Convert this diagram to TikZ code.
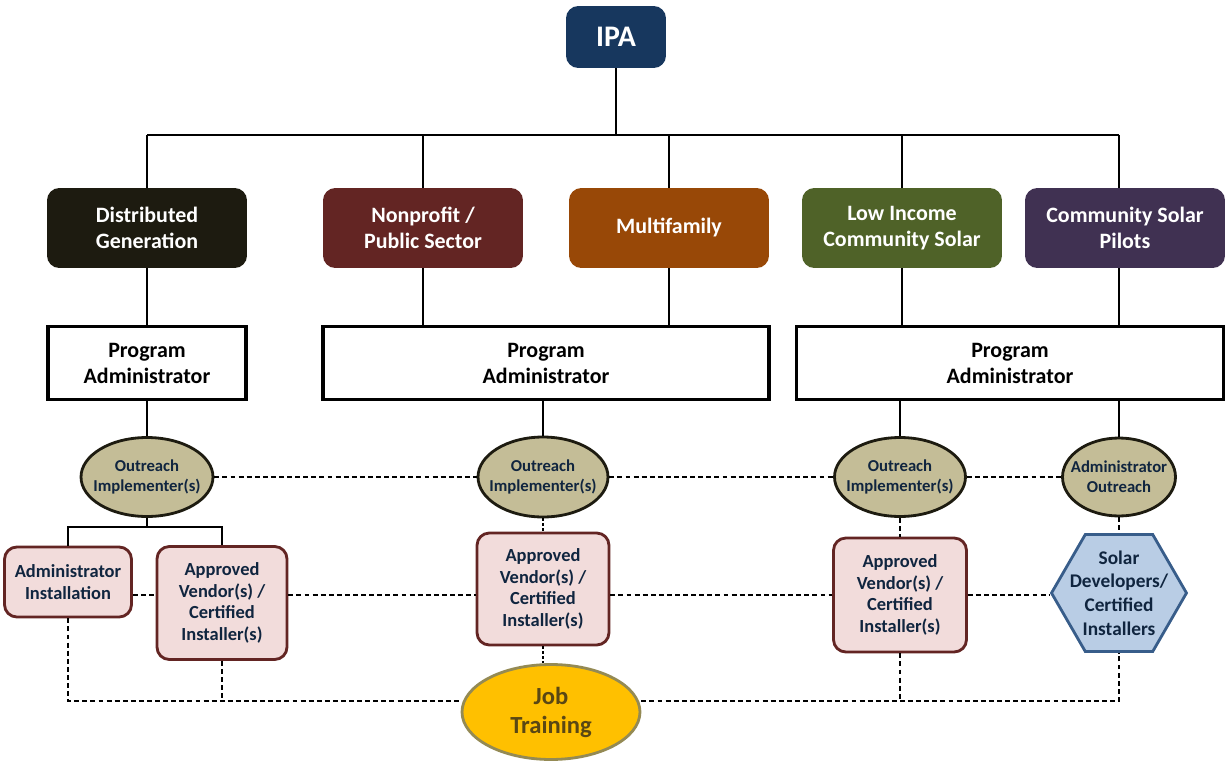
\documentclass[tikz,border=0pt]{standalone}
\usepackage{fontspec}
\setmainfont{Carlito}
\usetikzlibrary{positioning,shapes.geometric}
\definecolor{ipacol}{HTML}{17375E}
\definecolor{dgcol}{HTML}{1D1B10}
\definecolor{npcol}{HTML}{632523}
\definecolor{mfcol}{HTML}{984807}
\definecolor{liccol}{HTML}{4F6228}
\definecolor{cspcol}{HTML}{403152}
\definecolor{ovalfill}{HTML}{C4BD97}
\definecolor{venfill}{HTML}{F2DCDB}
\definecolor{hexfill}{HTML}{B9CDE5}
\definecolor{hexline}{HTML}{385D8A}
\definecolor{jobfill}{HTML}{FFC000}
\definecolor{jobline}{HTML}{948A54}
\definecolor{jobtext}{HTML}{5A4714}
\definecolor{inktext}{HTML}{10253F}

\begin{document}
\begin{tikzpicture}[x=0.02cm,y=-0.02cm,
    hbox/.style={rounded corners=7pt,minimum width=4cm,minimum height=1.6cm,align=center,text=white,
      font=\fontsize{12.5}{14.8}\selectfont\bfseries},
    pbox/.style={draw=black,line width=2pt,minimum height=1.46cm,align=center,
      font=\fontsize{12.5}{14.8}\selectfont\bfseries},
    obox/.style={ellipse,draw=dgcol,line width=1.6pt,fill=ovalfill,inner xsep=-7pt,align=center,text=inktext,
      font=\fontsize{9.5}{11.3}\selectfont\bfseries},
    vbox/.style={draw=npcol,line width=1.6pt,rounded corners=7pt,fill=venfill,align=center,text=inktext,
      inner sep=2pt,font=\fontsize{10.5}{12.2}\selectfont\bfseries},
    link/.style={line width=1.1pt},
    dlink/.style={line width=0.75pt,dash pattern=on 2.8pt off 1.8pt},
    plink/.style={line width=1.4pt,dash pattern=on 1.4pt off 1.4pt}]
    \useasboundingbox (0,0) rectangle (1225,761);
    \node[hbox,fill=ipacol,minimum width=2cm,minimum height=1.24cm,font=\fontsize{17}{20}\selectfont\bfseries](ipa) at (616,37){IPA};
    \node[hbox,fill=dgcol](dg) at (147,228){Distributed\\Generation};
    \node[hbox,fill=npcol](np) at (423,228){Nonprofit /\\Public Sector};
    \node[hbox,fill=mfcol](mf) at (669,228){Multifamily};
    \node[hbox,fill=liccol](lic) at (902,228){Low Income\\Community Solar};
    \node[hbox,fill=cspcol](csp) at (1125,228){Community Solar\\Pilots};
    \node[pbox,minimum width=3.96cm](pa1) at (147,363){Program\\Administrator};
    \node[pbox,minimum width=8.92cm](pa2) at (546,363){Program\\Administrator};
    \node[pbox,minimum width=8.54cm](pa3) at (1010,363){Program\\Administrator};
    \node[obox,minimum width=2.64cm,minimum height=1.58cm](e1) at (147,477){Outreach\\Implementer(s)};
    \node[obox,minimum width=2.6cm,minimum height=1.6cm](e2) at (543,477){Outreach\\Implementer(s)};
    \node[obox,minimum width=2.62cm,minimum height=1.58cm](e3) at (900,477){Outreach\\Implementer(s)};
    \node[obox,minimum width=2.26cm,minimum height=1.56cm](e4) at (1119,477){Administrator\\Outreach};
    \node[vbox,minimum width=2.54cm,minimum height=1.4cm](ai) at (68,582){Administrator\\Installation};
    \node[vbox,minimum width=2.6cm,minimum height=2.26cm](av1) at (222,603){Approved\\Vendor(s) /\\Certified\\Installer(s)};
    \node[vbox,minimum width=2.64cm,minimum height=2.24cm](av2) at (543,589){Approved\\Vendor(s) /\\Certified\\Installer(s)};
    \node[vbox,minimum width=2.66cm,minimum height=2.28cm](av3) at (900,595){Approved\\Vendor(s) /\\Certified\\Installer(s)};
    \node[regular polygon,regular polygon sides=6,minimum size=2.7cm,inner sep=0pt,draw=hexline,line width=1.6pt,fill=hexfill,
      label={[text=inktext,align=center,font=\fontsize{11}{13.4}\selectfont\bfseries]center:Solar\\Developers/\\Certified\\Installers}](hex) at (1119,593){};
    \node[ellipse,draw=jobline,line width=1.6pt,fill=jobfill,minimum width=3.56cm,minimum height=1.9cm,text=jobtext,align=center,
      font=\fontsize{14}{16.5}\selectfont\bfseries](job) at (551,712){Job\\Training};
    \coordinate (bus) at (0,135);
    \coordinate (fork) at (147,527);
    \coordinate (vrow) at (0,595);
    \coordinate (brow) at (0,701);
    \draw[link](ipa)--(ipa |- bus);
    \draw[link](dg.north |- bus)--(e4.north |- bus);
    \foreach \n in {dg,np,mf,lic}
      \draw[link](\n.north)--(\n.north |- bus);
    \draw[link](e4.north |- csp.north)--(e4.north |- bus);
    \draw[link](dg.south)--(pa1.north);
    \draw[link](np.south)--(np.south |- pa2.north);
    \draw[link](mf.south)--(mf.south |- pa2.north);
    \draw[link](lic.south)--(lic.south |- pa3.north);
    \draw[link](e4.north |- csp.south)--(e4.north |- pa3.north);
    \draw[link](pa1.south)--(e1.north);
    \draw[link](e2.north |- pa2.south)--(e2.north);
    \draw[link](e3.north |- pa3.south)--(e3.north);
    \draw[link](e4.north |- pa3.south)--(e4.north);
    \draw[link](e1.south)--(fork);
    \draw[link](ai.north) |- (fork) -| (av1.north);
    \draw[dlink](e1.east)--(e2.west) (e2.east)--(e3.west) (e3.east)--(e4.west);
    \draw[dlink](ai.east |- vrow)--(av1.west |- vrow) (av1.east |- vrow)--(av2.west |- vrow)
      (av2.east |- vrow)--(av3.west |- vrow) (av3.east |- vrow)--(hex.west |- vrow);
    \draw[plink](e2.south)--(av2.north) (av2.south)--(av2.south |- job.north);
    \draw[dlink](e3.south)--(av3.north) (e4.south)--(hex.north);
    \draw[dlink](ai.south) |- (job.west |- brow) (av1.south)--(av1.south |- brow);
    \draw[dlink](job.east |- brow) -| (hex.south) (av3.south)--(av3.south |- brow);
  \end{tikzpicture}
\end{document}
